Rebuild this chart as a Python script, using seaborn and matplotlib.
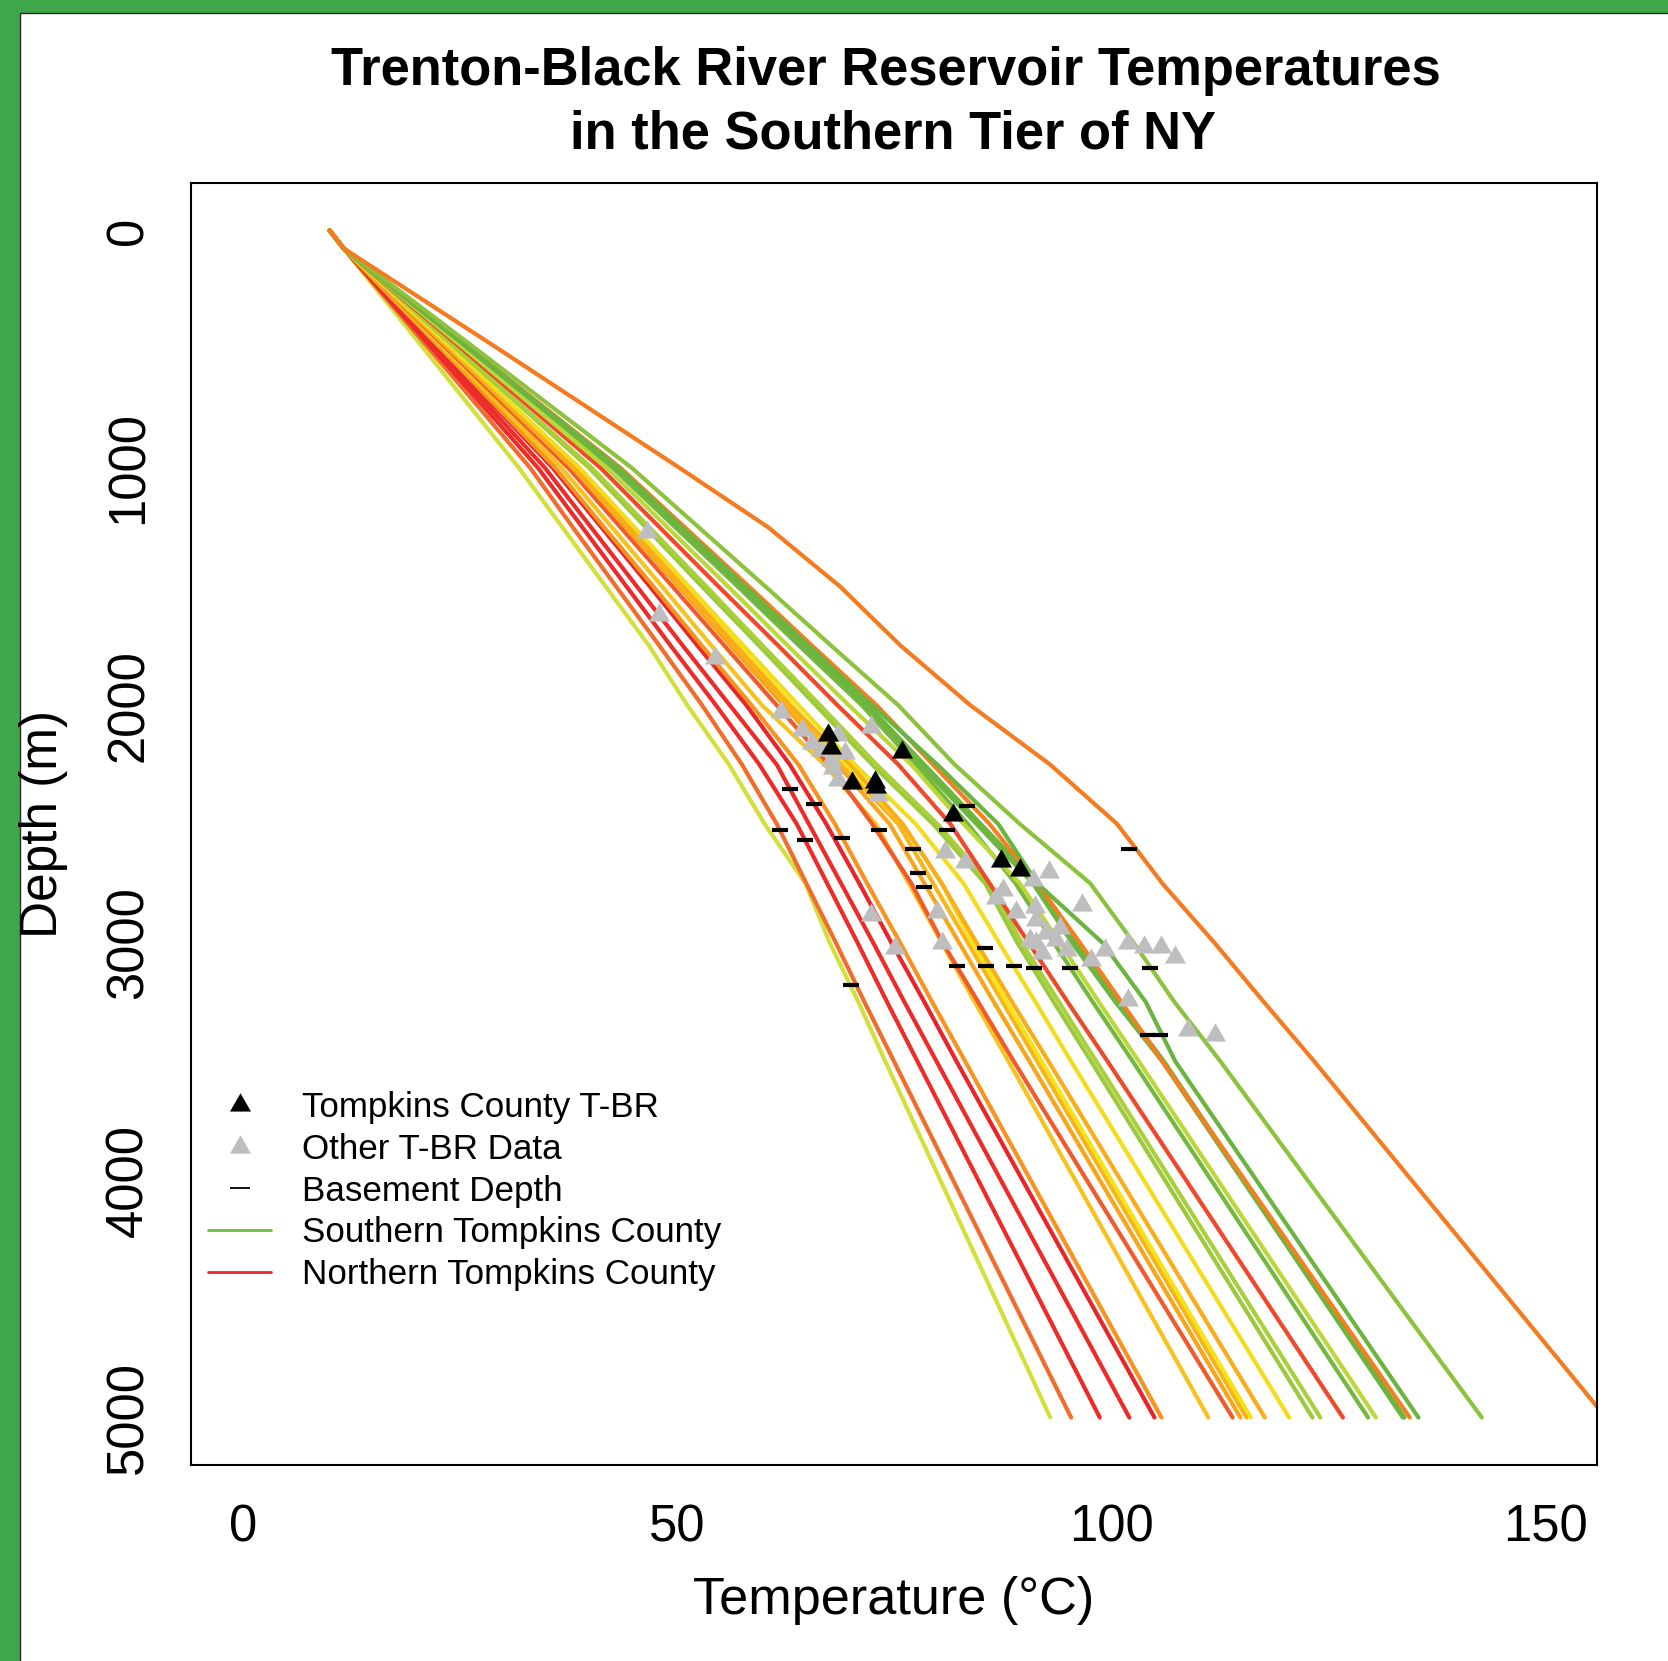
import numpy as np
import pandas as pd
import matplotlib
matplotlib.use("Agg")
import matplotlib.pyplot as plt
import seaborn as sns
from matplotlib.patches import Rectangle
from matplotlib.lines import Line2D

# ---------------- data ----------------
depth_grid = [0, 75, 500, 1000, 1250, 1500, 1750, 2000, 2250, 2500, 2750, 3000, 3250, 3500, 5000]

temp_L01 = [10, 11.6, 20.9, 31.8, 36.8, 41.8, 46.8, 51.2, 56.0, 60.1, 64.8, 67.6, 70.9, 74.0, 93.0]
temp_L02 = [10, 11.6, 21.5, 33.1, 38.0, 43.0, 48.0, 52.9, 57.5, 61.5, 64.9, 68.3, 71.6, 75.0, 95.4]
temp_L03 = [10, 11.6, 21.9, 34.0, 39.1, 44.2, 49.3, 54.5, 59.5, 63.8, 67.3, 70.8, 74.2, 77.7, 98.7]
temp_L04 = [10, 11.6, 22.3, 34.8, 40.1, 45.4, 50.7, 56.1, 61.5, 65.2, 68.9, 72.6, 76.2, 79.9, 102.1]
temp_L05 = [10, 11.6, 22.7, 35.7, 41.3, 46.9, 52.4, 58.0, 63.0, 67.2, 71.0, 74.7, 78.5, 82.2, 105.0]
temp_L06 = [10, 11.6, 22.9, 36.0, 41.6, 47.3, 52.9, 58.6, 64.0, 68.2, 71.9, 75.7, 79.4, 83.2, 105.8]
temp_L07 = [10, 11.6, 23.2, 36.7, 42.5, 48.3, 54.0, 59.8, 67.0, 72.9, 76.7, 80.5, 84.3, 88.2, 111.2]
temp_L08 = [10, 11.6, 23.6, 37.5, 43.5, 49.5, 55.5, 61.5, 67.5, 72.5, 77.0, 80.6, 84.7, 88.8, 114.0]
temp_L09 = [10, 11.6, 23.8, 38.0, 44.1, 50.2, 56.2, 62.3, 68.5, 74.5, 78.5, 82.5, 86.5, 90.6, 114.9]
temp_L10 = [10, 11.6, 23.9, 38.2, 44.4, 50.5, 56.7, 62.8, 69.0, 75.5, 79.5, 83.5, 87.5, 91.5, 115.6]
temp_L11 = [10, 11.6, 24.0, 38.5, 44.7, 50.9, 57.1, 63.3, 69.5, 76.0, 80.5, 84.0, 88.0, 92.0, 116.1]
temp_L12 = [10, 11.6, 23.9, 38.3, 44.5, 50.7, 56.8, 63.0, 70.0, 76.0, 80.5, 84.5, 88.6, 92.8, 117.7]
temp_L13 = [10, 11.6, 24.2, 38.8, 45.1, 51.4, 57.7, 64.0, 70.5, 77.5, 83.0, 87.1, 91.3, 95.4, 120.5]
temp_L14 = [10, 11.6, 24.7, 39.9, 46.4, 52.9, 59.5, 66.0, 72.5, 79.5, 85.5, 89.2, 93.4, 97.7, 123.2]
temp_L15 = [10, 11.6, 24.8, 40.2, 46.8, 53.4, 59.9, 66.5, 73.0, 80.0, 86.0, 89.7, 94.0, 98.3, 124.1]
temp_L16 = [10, 11.6, 25.3, 41.2, 48.0, 54.8, 61.7, 68.5, 75.5, 81.5, 86.0, 90.5, 95.0, 99.6, 126.7]
temp_L17 = [10, 11.6, 25.9, 42.6, 49.8, 57.0, 64.1, 71.3, 77.5, 83.5, 89.0, 93.4, 97.9, 102.5, 129.6]
temp_L18 = [10, 11.6, 25.6, 41.9, 48.9, 55.9, 62.8, 69.8, 77.0, 83.0, 89.5, 94.1, 98.6, 103.2, 130.5]
temp_L19 = [10, 11.6, 26.1, 42.9, 50.1, 57.4, 64.6, 71.8, 78.0, 84.5, 91.0, 95.5, 100.5, 105.9, 133.6]
temp_L20 = [10, 11.6, 26.1, 43.0, 50.3, 57.5, 64.8, 72.0, 78.5, 85.0, 91.5, 96.0, 101.0, 106.1, 133.8]
temp_L21 = [10, 11.6, 26.3, 43.5, 50.9, 58.3, 65.6, 73.0, 79.5, 86.0, 91.5, 96.4, 101.2, 105.9, 134.4]
temp_L22 = [10, 11.6, 26.2, 43.3, 50.6, 57.9, 65.2, 72.5, 80.0, 87.0, 91.5, 99.0, 104.0, 107.4, 135.4]
temp_L23 = [10, 11.6, 26.9, 44.8, 52.5, 60.2, 67.8, 75.5, 82.0, 89.5, 97.6, 102.6, 107.3, 112.6, 142.7]
temp_L24 = [10, 11.6, 29.5, 50.3, 60.5, 68.8, 75.8, 83.8, 93.0, 100.7, 105.9, 111.9, 117.6, 123.4, 157.0]

line_colors = ["#d3df3b", "#f26c2b", "#ec2c2a", "#ec2c2a", "#e8262a", "#f7931e",
               "#f5c21f", "#f15a2a", "#f9a51b", "#f9b41b", "#f4e21b", "#f9ad1b",
               "#f3dc1c", "#9cc93b", "#a9cf3a", "#f0482a", "#75b83f", "#bcd73a",
               "#6db53f", "#6db53f", "#f47f20", "#6ab43f", "#8cc23d", "#f47b20"]

tompkins_temp = [67.4, 67.8, 70.2, 72.8, 72.9, 75.9, 81.8, 87.3, 89.5]
tompkins_depth = [2125, 2178, 2326, 2322, 2343, 2195, 2462, 2655, 2694]

other_temp = [46.6, 47.9, 54.4, 62.0, 64.4, 65.6, 66.6, 68.6, 69.4, 67.8, 68.0, 68.6,
              72.3, 73.1, 80.9, 83.2, 87.6, 86.8, 91.0, 92.9, 89.0, 91.2, 91.4, 96.7,
              92.5, 93.7, 94.1, 91.3, 94.9, 92.1, 97.7, 99.3, 101.9, 103.8, 101.9, 72.3,
              75.1, 79.9, 80.5, 105.8, 107.4, 108.9, 112.0, 90.7]
other_depth = [1269, 1620, 1802, 2027, 2104, 2160, 2188, 2125, 2202, 2230, 2265, 2315,
               2090, 2378, 2617, 2659, 2778, 2813, 2736, 2701, 2869, 2848, 2904, 2841,
               2960, 2989, 2939, 3003, 3031, 3045, 3073, 3031, 3003, 3017, 3241, 2883,
               3024, 2869, 3003, 3017, 3059, 3368, 3389, 2989]

basement_temp = [63.0, 65.8, 61.9, 64.7, 69.0, 73.3, 77.2, 77.8, 78.5, 83.4, 81.1,
                 85.5, 82.2, 85.6, 88.8, 91.1, 95.3, 102.1, 70.0, 104.5, 104.2, 105.6]
basement_depth = [2353, 2414, 2525, 2567, 2558, 2525, 2606, 2708, 2765, 2423, 2525,
                  3024, 3098, 3098, 3098, 3108, 3108, 2606, 3180, 3108, 3389, 3389]

legend_labels = ["Tompkins County T-BR", "Other T-BR Data", "Basement Depth",
                 "Southern Tompkins County", "Northern Tompkins County"]
x_ticks = [0, 50, 100, 150]
y_ticks = [0, 1000, 2000, 3000, 4000, 5000]

# ---------------- figure ----------------
sns.set_style("white")
plt.rcParams["font.family"] = ["Liberation Sans", "DejaVu Sans"]
plt.rcParams["text.color"] = "black"
plt.rcParams["axes.labelcolor"] = "black"
plt.rcParams["xtick.color"] = "black"
plt.rcParams["ytick.color"] = "black"

W, H = 1668, 1661
fig = plt.figure(figsize=(W / 100, H / 100), dpi=100)
fig.patch.set_facecolor("#3fa649")
fig.patches.append(Rectangle((20 / W, -0.1), 1.2, 1.1 - 13 / H, transform=fig.transFigure,
                             facecolor="white", edgecolor="#2b2b2b", lw=1.0, zorder=-5))

ax = fig.add_axes([190.7 / W, 1 - 1465 / H, (1597.3 - 190.7) / W, (1465 - 183) / H])
ax.set_facecolor("white")

all_lines = [temp_L01, temp_L02, temp_L03, temp_L04, temp_L05, temp_L06, temp_L07, temp_L08,
             temp_L09, temp_L10, temp_L11, temp_L12, temp_L13, temp_L14, temp_L15, temp_L16,
             temp_L17, temp_L18, temp_L19, temp_L20, temp_L21, temp_L22, temp_L23, temp_L24]
names = [f"L{i + 1:02d}" for i in range(len(all_lines))]
df = pd.DataFrame({
    "temp": np.concatenate([np.asarray(v, float) for v in all_lines]),
    "depth": np.tile(np.asarray(depth_grid, float), len(all_lines)),
    "well": np.repeat(names, len(depth_grid)),
})
sns.lineplot(data=df, x="temp", y="depth", hue="well", palette=dict(zip(names, line_colors)),
             estimator=None, sort=False, legend=False, lw=3.0, ax=ax, zorder=2)
for ln in ax.get_lines():
    ln.set_solid_joinstyle("round")

tri = [(0.0, 1.0), (-0.866, -0.5), (0.866, -0.5)]
msz = 17.5
ax.scatter(other_temp, other_depth, marker=tri, s=msz ** 2, c="#bebebe", linewidths=0, zorder=3)
ax.scatter(tompkins_temp, tompkins_depth, marker=tri, s=msz ** 2, c="black", linewidths=0, zorder=4)
ax.scatter(basement_temp, basement_depth, marker="_", s=130, c="black", linewidths=3.0, zorder=5)

ax.set_xlim(-6, 156)
ax.set_ylim(5200, -200)
ax.set_xticks(x_ticks)
ax.set_yticks(y_ticks)
ax.set_xticklabels([str(v) for v in x_ticks])
ax.set_yticklabels([str(v) for v in y_ticks])
ax.grid(False)
for s in ax.spines.values():
    s.set_visible(True)
    s.set_color("black")
    s.set_linewidth(1.5)
ax.tick_params(axis="both", direction="out", length=15.6, width=1.5, color="black",
               labelsize=36.5, labelcolor="black")
ax.tick_params(axis="x", pad=12)
ax.tick_params(axis="y", pad=11, labelrotation=90)
for lab in ax.get_yticklabels():
    lab.set_va("center")

ax.set_xlabel("Temperature (°C)", fontsize=37.6, va="baseline", ha="center", color="black")
ax.xaxis.set_label_coords(0.5, (1465 - 1614) / 1282)
ax.set_ylabel("Depth (m)", fontsize=37, rotation=90, rotation_mode="anchor",
              ha="center", va="baseline", color="black")
ax.yaxis.set_label_coords((57 - 190.7) / 1406.6, 0.5)

fig.text(886 / W, 1 - 85 / H, "Trenton-Black River Reservoir Temperatures", fontsize=37.8,
         fontweight="bold", ha="center", va="baseline", color="black")
fig.text(893 / W, 1 - 148.3 / H, "in the Southern Tier of NY", fontsize=37.8,
         fontweight="bold", ha="center", va="baseline", color="black")

handles = [
    Line2D([], [], marker=tri, color="black", ls="none", markersize=msz, markeredgewidth=0),
    Line2D([], [], marker=tri, color="#bebebe", ls="none", markersize=msz, markeredgewidth=0),
    Line2D([], [], marker="_", color="black", ls="none", markersize=14, markeredgewidth=1.3),
    Line2D([], [], color="#6cbf3b", lw=2.0),
    Line2D([], [], color="#e8262a", lw=2.0),
]
leg = ax.legend(handles, legend_labels, loc="upper left", bbox_to_anchor=(208 / W, 1 - 1091 / H),
                bbox_transform=fig.transFigure, frameon=False, fontsize=25.2, borderpad=0,
                borderaxespad=0, handlelength=1.8, handletextpad=0.9, labelspacing=0.25)
for t in leg.get_texts():
    t.set_color("black")

fig.savefig("out.png", dpi=100, facecolor=fig.get_facecolor())
